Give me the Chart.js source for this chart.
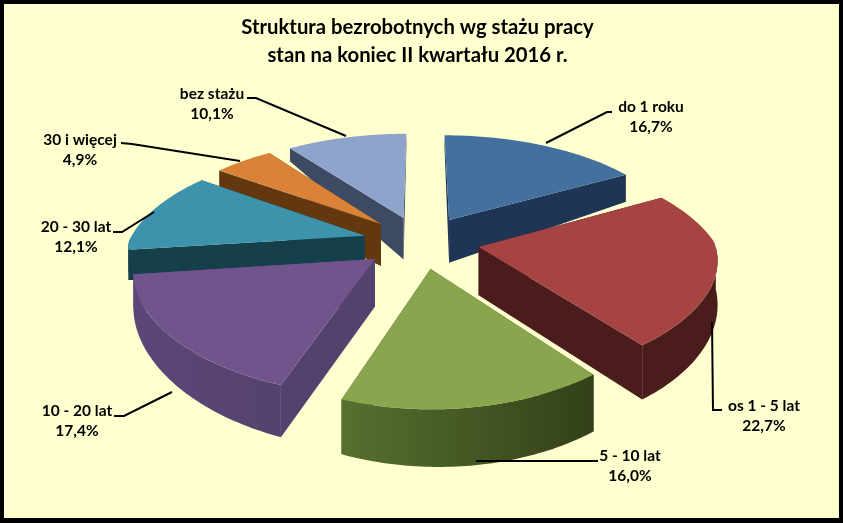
<!DOCTYPE html>
<html>
<head>
<meta charset="utf-8">
<style>
html,body{margin:0;padding:0;background:#000;}
#wrap{position:absolute;left:0;top:0;width:843px;height:523px;}
</style>
<script src="https://cdn.jsdelivr.net/npm/chart.js@4"></script>
</head>
<body>
<div id="wrap"><canvas id="myChart" width="843" height="523"></canvas></div>
<script>
var categories = ['do 1 roku','os 1 - 5 lat','5 - 10 lat','10 - 20 lat','20 - 30 lat','30 i więcej','bez stażu'];
var shares = [16.7,22.7,16.0,17.4,12.1,4.9,10.1];
var topColors = ['#44709f','#a54442','#89a54e','#71548c','#3c93ab','#d98238','#8ea4cc'];
var wallColors = ['#1f3556','#4a1c1b','#56702f','#5c4678','#153f4b','#64380f','#3d4a63'];
var wallEnds = ['#1f3556','#4a1c1b','#334019','#54426e','#153f4b','#64380f','#3d4a63'];
var labelBoxes = [[651,117],[764,416],[630,466],[77,421],[76,237],[80,150],[212,104]];
var leaders = [
  [[612,112],[607,112],[546,143]],
  [[712,322],[713,410],[722,410]],
  [[598,461],[476,461]],
  [[114,416],[124,416],[172,392]],
  [[113,232],[122,232],[154,212]],
  [[121,143],[132,144],[240,161]],
  [[247,98],[256,98],[346,136]]
];

// flat pie -> tilted view
var centreX = 421, centreY = 242, radiusPx = 236, tiltPx = 106, perspFar = 0.2, perspNear = 0.1, perspY = 0.17;
function project(ux, uy) {
  var s = 1 / (1 - perspY * uy), sx = 1 / (1 - (uy < 0 ? perspFar : perspNear) * uy);
  return [centreX + radiusPx * ux * sx, centreY + tiltPx * uy * s];
}
// wall height, the original is not a clean perspective so this is fitted by eye
function lower(ux, uy, extra) {
  var p = project(ux, uy);
  return [p[0], p[1] + 35 + 5 * ux + 18 * uy + (extra || 0)];
}

function sliceGeom(el) {
  var o = el.getProps(['startAngle','endAngle','outerRadius'], true);
  var mid = (o.startAngle + o.endAngle) / 2;
  var off = el.options.offset / o.outerRadius;
  return {a0:o.startAngle, a1:o.endAngle, tx:Math.cos(mid)*off, ty:Math.sin(mid)*off, midY:Math.sin(mid)};
}

function rimPoint(g, a) {
  return [g.tx + Math.cos(a), g.ty + Math.sin(a)];
}

function poly(ctx, pts, fill) {
  ctx.beginPath();
  pts.forEach(function(p,i){ if(i) ctx.lineTo(p[0],p[1]); else ctx.moveTo(p[0],p[1]); });
  ctx.closePath();
  ctx.fillStyle = fill;
  ctx.fill();
}

function drawSlice(ctx, g, i) {
  var steps = 60, top = [], rim = [], upper = [], k, a, u;
  var tip = project(g.tx, g.ty), tipB = lower(g.tx, g.ty, 11);
  var s0 = rimPoint(g, g.a0), s1 = rimPoint(g, g.a1);
  // radial walls
  poly(ctx, [tip, project(s0[0],s0[1]), lower(s0[0],s0[1]), tipB], wallEnds[i]);
  poly(ctx, [tip, project(s1[0],s1[1]), lower(s1[0],s1[1]), tipB], wallEnds[i]);
  for (k = 0; k <= steps; k++) {
    a = g.a0 + (g.a1 - g.a0) * k / steps;
    u = rimPoint(g, a);
    top.push(project(u[0],u[1]));
    // outer wall only on the side facing the viewer
    if (Math.sin(a) > 0) {
      upper.push(project(u[0],u[1]));
      rim.push(lower(u[0],u[1]));
    }
  }
  if (rim.length > 1) {
    var xs = rim.map(function(p){return p[0];});
    var wall = ctx.createLinearGradient(Math.min.apply(null, xs),0,Math.max.apply(null, xs),0);
    wall.addColorStop(0, wallColors[i]);
    wall.addColorStop(1, wallEnds[i]);
    poly(ctx, upper.concat(rim.slice().reverse()), wall);
  }
  poly(ctx, [tip].concat(top), topColors[i]);
}

var tiltedPie = {
  id:'tiltedPie',
  beforeDatasetsDraw:function(chart){
    var ctx = chart.ctx, arcs = chart.getDatasetMeta(0).data;
    var order = arcs.map(function(el,i){ return {g:sliceGeom(el), i:i}; });
    order.sort(function(a,b){ return a.g.midY - b.g.midY; });
    ctx.save();
    order.forEach(function(o){ drawSlice(ctx, o.g, o.i); });
    // leaders and labels
    ctx.strokeStyle = '#000'; ctx.lineWidth = 2;
    leaders.forEach(function(l){
      ctx.beginPath();
      l.forEach(function(p,i){ if(i) ctx.lineTo(p[0],p[1]); else ctx.moveTo(p[0],p[1]); });
      ctx.stroke();
    });
    ctx.fillStyle = '#000'; ctx.font = 'bold 15.5px Lato'; ctx.textAlign = 'center'; ctx.textBaseline = 'middle';
    categories.forEach(function(c,i){
      ctx.fillText(c, labelBoxes[i][0], labelBoxes[i][1] - 10);
      ctx.fillText(shares[i].toFixed(1).replace('.',',') + '%', labelBoxes[i][0], labelBoxes[i][1] + 10);
    });
    ctx.restore();
    return false;
  }
};

var frame = {
  id:'frame',
  beforeDraw:function(chart){
    var c = chart.ctx;
    c.save();
    c.fillStyle = '#000'; c.fillRect(0,0,chart.width,chart.height);
    c.fillStyle = '#ffffcf'; c.fillRect(4,4,chart.width-8,chart.height-9);
    c.restore();
  }
};

new Chart(document.getElementById('myChart'), {
  type:'pie',
  data:{labels:categories, datasets:[{data:shares, backgroundColor:topColors, offset:50, borderWidth:0}]},
  options:{
    responsive:false, animation:false, rotation:0,
    layout:{padding:{right:8}},
    plugins:{
      legend:{display:false}, tooltip:{enabled:false},
      title:{display:true, text:['Struktura bezrobotnych wg stażu pracy','stan na koniec II kwartału 2016 r.'],
        color:'#000', font:{family:'Lato', size:20.3, weight:'bold', lineHeight:1.38}, padding:{top:13,bottom:0}}
    }
  },
  plugins:[frame, tiltedPie]
});
</script>
</body>
</html>
